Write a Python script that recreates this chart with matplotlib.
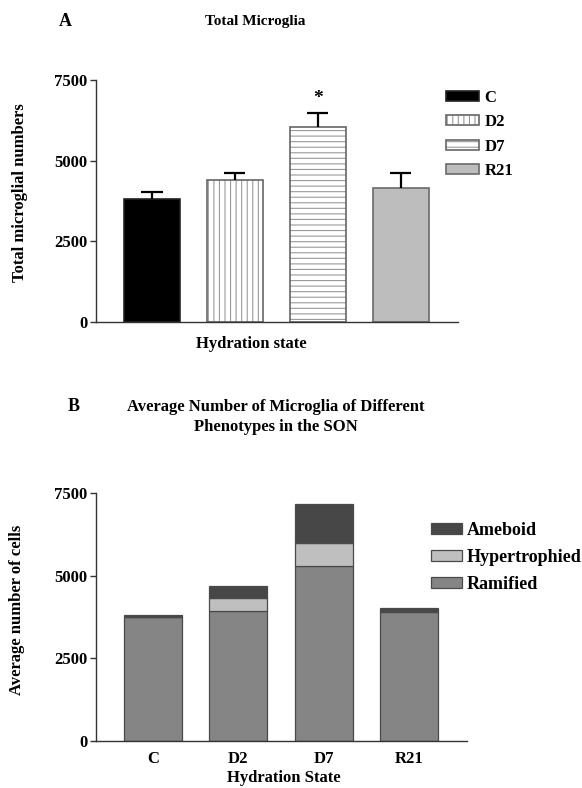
import matplotlib
matplotlib.use('Agg')
import matplotlib.pyplot as plt
from matplotlib.legend_handler import HandlerTuple
import numpy as np

plt.rcParams['font.family'] = ['Liberation Serif', 'DejaVu Serif']
plt.rcParams['font.weight'] = 'bold'
plt.rcParams['hatch.linewidth'] = 0.8

# panel A data
groups = ['C', 'D2', 'D7', 'R21']
totals = [3800, 4390, 6030, 4150]
sem = [230, 230, 455, 470]

# panel B data
states = ['C', 'D2', 'D7', 'R21']
ramified = [3740, 3940, 5300, 3900]
hypertrophied = [20, 390, 700, 40]
ameboid = [60, 360, 1170, 80]

fig = plt.figure(figsize=(5.82, 7.88), dpi=100)

# ---------------- A ----------------
ax1 = fig.add_axes([0.165, 0.5914, 0.622, 0.3071])
x = np.arange(len(groups))
w = 0.675
fills = ['black', 'white', 'white', '#bdbdbd']
hatches = [None, '|||', '---', None]
hcols = ['black', '#9a9a9a', '#9a9a9a', '#bdbdbd']
edges = ['#222222', '#666666', '#666666', '#6a6a6a']

handles = []
for i in range(len(groups)):
    hb = ax1.bar(x[i], totals[i], w, color=fills[i], hatch=hatches[i],
                 edgecolor=hcols[i], linewidth=0)
    ob = ax1.bar(x[i], totals[i], w, fill=False, edgecolor=edges[i],
                 linewidth=1.2)
    handles.append((hb[0], ob[0]))

tops = np.array(totals) + np.array(sem)
ax1.vlines(x, totals, tops, color='black', linewidth=1.6)
ax1.hlines(tops, x - 0.127, x + 0.127, color='black', linewidth=1.6)
ax1.text(2, tops[2] + 430, '*', ha='center', va='center', fontsize=14)

ax1.set_xlim(-0.675, 3.69)
ax1.set_ylim(0, 7500)
ax1.set_yticks([0, 2500, 5000, 7500])
ax1.set_xticks([])
for s in ['top', 'right']:
    ax1.spines[s].set_visible(False)
for s in ['left', 'bottom']:
    ax1.spines[s].set_color('#333333')
    ax1.spines[s].set_linewidth(1.0)
ax1.tick_params(axis='y', length=4, width=1, color='#333333', labelsize=12, pad=2)

ax1.legend(handles, groups, handler_map={tuple: HandlerTuple(ndivide=1)},
           loc='upper left', bbox_to_anchor=(446 / 582, 1 - 90 / 788),
           bbox_transform=fig.transFigure, frameon=False, fontsize=12,
           handlelength=2.0, handleheight=0.55, handletextpad=0.3,
           labelspacing=0.5, borderpad=0, borderaxespad=0)

fig.text(65 / 582, 1 - 22 / 788, 'A', fontsize=13, ha='center', va='center')
fig.text(255 / 582, 1 - 22 / 788, 'Total Microglia', fontsize=11,
         ha='center', va='center')
fig.text(20 / 582, 1 - 193 / 788, 'Total microglial numbers', fontsize=12,
         rotation=90, ha='center', va='center')
fig.text(251 / 582, 1 - 344 / 788, 'Hydration state', fontsize=12,
         ha='center', va='center')

# ---------------- B ----------------
ax2 = fig.add_axes([0.165, 0.0596, 0.637, 0.3147])
xb = np.arange(len(states))
wb = 0.68
ram = np.array(ramified)
hyp = np.array(hypertrophied)
ame = np.array(ameboid)
ec = '#4a4a4a'
b_r = ax2.bar(xb, ram, wb, color='#858585', edgecolor=ec, linewidth=0.9,
              label='Ramified')
b_h = ax2.bar(xb, hyp, wb, bottom=ram, color='#bfbfbf', edgecolor=ec,
              linewidth=0.9, label='Hypertrophied')
b_a = ax2.bar(xb, ame, wb, bottom=ram + hyp, color='#474747', edgecolor=ec,
              linewidth=0.9, label='Ameboid')

ax2.set_xlim(-0.67, 3.68)
ax2.set_ylim(0, 7500)
ax2.set_yticks([0, 2500, 5000, 7500])
ax2.set_xticks(xb)
ax2.set_xticklabels(states)
for s in ['top', 'right']:
    ax2.spines[s].set_visible(False)
for s in ['left', 'bottom']:
    ax2.spines[s].set_color('#333333')
    ax2.spines[s].set_linewidth(1.0)
ax2.tick_params(axis='y', length=4, width=1, color='#333333', labelsize=12, pad=2)
ax2.tick_params(axis='x', length=0, labelsize=12, pad=7)

ax2.legend([b_a, b_h, b_r], ['Ameboid', 'Hypertrophied', 'Ramified'],
           loc='upper left', bbox_to_anchor=(431 / 582, 1 - 522 / 788),
           bbox_transform=fig.transFigure, frameon=False, fontsize=13,
           handlelength=1.7, handleheight=0.5, handletextpad=0.3,
           labelspacing=0.55, borderpad=0, borderaxespad=0)

fig.text(74 / 582, 1 - 406 / 788, 'B', fontsize=13, ha='center', va='center')
fig.text(276 / 582, 1 - 417 / 788,
         'Average Number of Microglia of Different\nPhenotypes in the SON',
         fontsize=12, ha='center', va='center', linespacing=1.3)
fig.text(17 / 582, 1 - 610 / 788, 'Average number of cells', fontsize=12,
         rotation=90, ha='center', va='center')
fig.text(284 / 582, 1 - 778 / 788, 'Hydration State', fontsize=12,
         ha='center', va='center')

fig.savefig('out.png', dpi=100)
